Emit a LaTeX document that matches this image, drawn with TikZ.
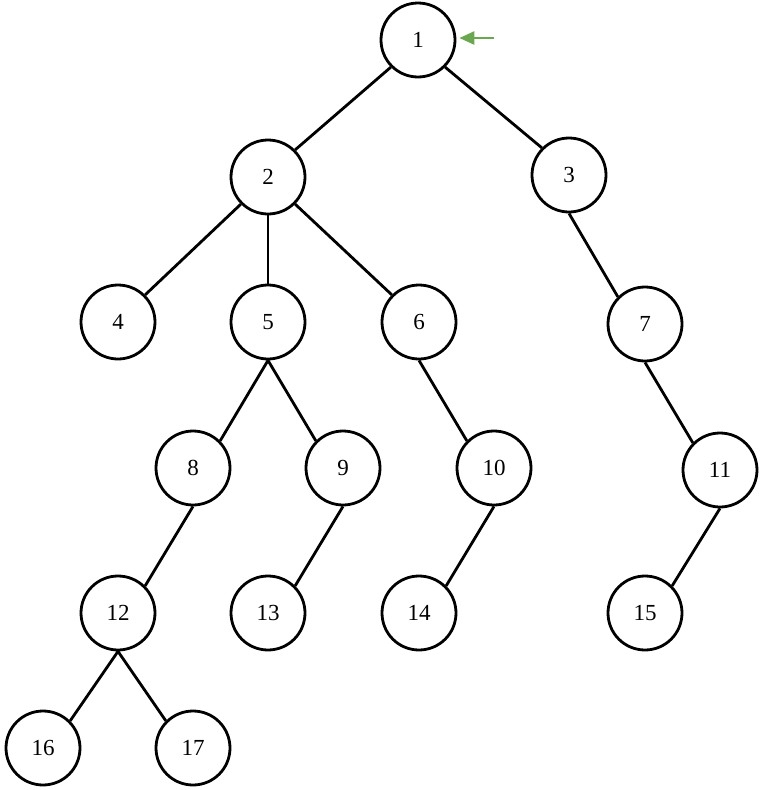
\documentclass[tikz,border=0pt]{standalone}
\usepackage{fontspec}
\setmainfont{Liberation Serif}
\usetikzlibrary{arrows.meta}
\definecolor{arrowgreen}{RGB}{106,168,79}
\begin{document}
\begin{tikzpicture}[x=1pt,y=-1pt,
  tnode/.style={circle,draw=black,line width=2.8pt,minimum size=74pt,inner sep=0pt,font=\fontsize{23}{26}\selectfont},
  edge/.style={draw=black,line width=2.8pt}]
\useasboundingbox (0,0) rectangle (763,790);
\node[tnode] (n1) at (418,40) {1};
\node[tnode] (n2) at (268,177) {2};
\node[tnode] (n3) at (569,175) {3};
\node[tnode] (n4) at (118,322) {4};
\node[tnode] (n5) at (268,322) {5};
\node[tnode] (n6) at (419,322) {6};
\node[tnode] (n7) at (645,324) {7};
\node[tnode] (n8) at (193,468) {8};
\node[tnode] (n9) at (343,468) {9};
\node[tnode] (n10) at (494,468) {10};
\node[tnode] (n11) at (720,470) {11};
\node[tnode] (n12) at (118,613) {12};
\node[tnode] (n13) at (268,613) {13};
\node[tnode] (n14) at (419,613) {14};
\node[tnode] (n15) at (645,613) {15};
\node[tnode] (n16) at (43,748) {16};
\node[tnode] (n17) at (193,748) {17};
\coordinate (arrstart) at (494,38);
\draw[edge] (n1.south west) -- (n2.north east);
\draw[edge] (n1.south east) -- (n3.north west);
\draw[edge] (n2.south west) -- (n4.north east);
\draw[edge] (n2.south) -- (n5.north);
\draw[edge] (n2.south east) -- (n6.north west);
\draw[edge] (n3.south) -- (n7.north west);
\draw[edge] (n5.south) -- (n8.north east);
\draw[edge] (n5.south) -- (n9.north west);
\draw[edge] (n6.south) -- (n10.north west);
\draw[edge] (n7.south) -- (n11.north west);
\draw[edge] (n8.south) -- (n12.north east);
\draw[edge] (n9.south) -- (n13.north east);
\draw[edge] (n10.south) -- (n14.north east);
\draw[edge] (n11.south) -- (n15.north east);
\draw[edge] (n12.south) -- (n16.north east);
\draw[edge] (n12.south) -- (n17.north west);
\draw[draw=arrowgreen,line width=2.8pt,-{Triangle[length=15pt,width=13pt]}] (arrstart) -- ([xshift=3pt]n1.east |- arrstart);
\end{tikzpicture}
\end{document}
